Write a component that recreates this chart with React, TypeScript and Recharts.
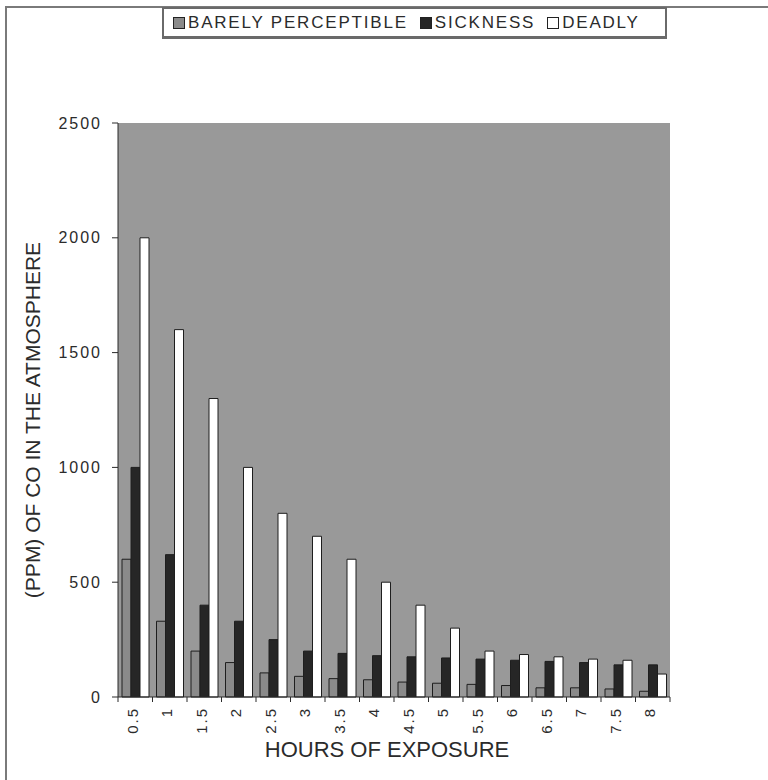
import React from "react";
import { Bar, BarChart, CartesianGrid, Legend, XAxis, YAxis } from "recharts";

const hours = ["0.5", "1", "1.5", "2", "2.5", "3", "3.5", "4", "4.5", "5", "5.5", "6", "6.5", "7", "7.5", "8"];
const barelyPerceptible = [600, 330, 200, 150, 105, 90, 80, 75, 65, 60, 55, 50, 40, 40, 35, 25];
const sickness = [1000, 620, 400, 330, 250, 200, 190, 180, 175, 170, 165, 160, 155, 150, 140, 140];
const deadly = [2000, 1600, 1300, 1000, 800, 700, 600, 500, 400, 300, 200, 185, 175, 165, 160, 100];
const yTicks = [0, 500, 1000, 1500, 2000, 2500];

const series = [
  { key: "barely", name: "BARELY PERCEPTIBLE", fill: "#8a8a8a" },
  { key: "sickness", name: "SICKNESS", fill: "#262626" },
  { key: "deadly", name: "DEADLY", fill: "#ffffff" }
];

const data = hours.map((h, i) => ({
  hour: h,
  barely: barelyPerceptible[i],
  sickness: sickness[i],
  deadly: deadly[i]
}));

const font = "'Liberation Sans', Arial, sans-serif";
const ink = "#2b2b2b";
const plotLeft = 118;
const plotRight = 670;
const band = (plotRight - plotLeft) / hours.length;

function HourTick(props: any) {
  const { x, y, payload, index } = props;
  const left = x - band / 2;
  return (
    <g>
      <line x1={left} x2={left} y1={y} y2={y + 5} stroke={ink} />
      {index === hours.length - 1 && <line x1={x + band / 2} x2={x + band / 2} y1={y} y2={y + 5} stroke={ink} />}
      <text
        transform={`translate(${x - 3}, ${y + 10}) rotate(-90)`}
        textAnchor="end"
        dominantBaseline="central"
        fontSize={15}
        letterSpacing={2}
        fill={ink}
        fontFamily={font}
      >
        {payload.value}
      </text>
    </g>
  );
}

function LegendBox() {
  return (
    <div
      style={{
        display: "flex",
        alignItems: "center",
        boxSizing: "border-box",
        height: 32,
        paddingLeft: 9,
        border: "2px solid #6a6a6a",
        borderBottomWidth: 3,
        background: "#fff",
        fontFamily: font,
        fontSize: 17,
        letterSpacing: 1.8,
        color: ink
      }}
    >
      {series.map((s, i) => (
        <span key={s.key} style={{ display: "flex", alignItems: "center", marginRight: i < series.length - 1 ? 12 : 0 }}>
          <span style={{ width: 10, height: 10, background: s.fill, border: "1px solid #222", marginRight: 3 }} />
          {s.name}
        </span>
      ))}
    </div>
  );
}

export default function App() {
  return (
    <div style={{ position: "absolute", left: 0, top: 0, width: 768, height: 780, overflow: "hidden", background: "#fff" }}>
      <div
        style={{
          position: "absolute",
          left: 5,
          top: 6,
          width: 800,
          height: 800,
          borderLeft: "2px solid #7a7a7a",
          borderTop: "2px solid #7a7a7a"
        }}
      />
      <BarChart
        width={768}
        height={780}
        data={data}
        margin={{ top: 123, right: 98, left: 0, bottom: 0 }}
        barCategoryGap={4}
        barGap={0}
        style={{ position: "absolute", left: 0, top: 0 }}
      >
        <CartesianGrid horizontal={false} vertical={false} fill="#999999" yAxisId="left" />
        <XAxis
          dataKey="hour"
          height={83}
          interval={0}
          tickSize={0}
          tickMargin={0}
          tickLine={false}
          axisLine={{ stroke: ink }}
          tick={<HourTick />}
          label={{
            content: () => (
              <text x={387} y={757} textAnchor="middle" fontSize={22} fill={ink} fontFamily={font}>
                HOURS OF EXPOSURE
              </text>
            )
          }}
        />
        <YAxis
          yAxisId="left"
          width={118}
          domain={[0, 2500]}
          ticks={yTicks}
          interval={0}
          tickSize={6}
          tickMargin={10}
          tickLine={{ stroke: ink }}
          axisLine={{ stroke: ink }}
          tick={{ fontSize: 16, letterSpacing: 2, fill: ink, fontFamily: font }}
          label={{
            content: () => (
              <text
                transform="translate(40, 420) rotate(-90)"
                textAnchor="middle"
                fontSize={21}
                fill={ink}
                fontFamily={font}
              >
                (PPM) OF CO IN THE ATMOSPHERE
              </text>
            )
          }}
        />
        <YAxis yAxisId="right" orientation="right" width={0} domain={[0, 2500]} tick={false} tickLine={false} axisLine={{ stroke: ink }} />
        <Legend
          verticalAlign="middle"
          align="center"
          layout="horizontal"
          content={() => <LegendBox />}
          wrapperStyle={{ top: 7, left: 162, width: 505, height: 32 }}
        />
        {series.map((s) => (
          <Bar
            key={s.key}
            yAxisId="left"
            dataKey={s.key}
            name={s.name}
            fill={s.fill}
            stroke="#1e1e1e"
            strokeWidth={1}
            isAnimationActive={false}
          />
        ))}
      </BarChart>
    </div>
  );
}
